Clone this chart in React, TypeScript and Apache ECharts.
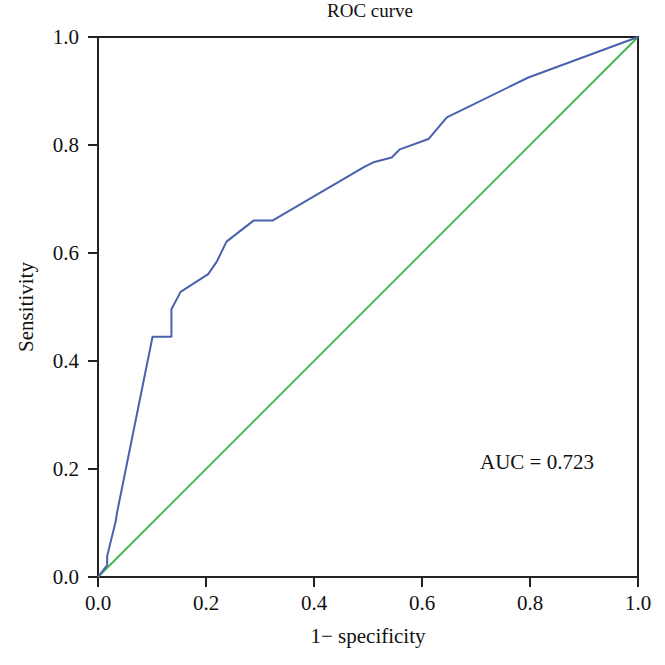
import React, { useEffect, useRef } from "react";
import * as echarts from "echarts";

const rocFpr = [0, 0.017, 0.017, 0.033, 0.035, 0.101, 0.136, 0.136, 0.153, 0.204, 0.22, 0.238, 0.288, 0.323, 0.494, 0.51, 0.544, 0.559, 0.612, 0.646, 0.797, 1.0];
const rocTpr = [0, 0.022, 0.039, 0.104, 0.118, 0.445, 0.445, 0.496, 0.528, 0.561, 0.584, 0.621, 0.66, 0.66, 0.76, 0.768, 0.777, 0.792, 0.811, 0.851, 0.925, 1.0];
const refX = [0, 1];
const refY = [0, 1];
const titleText = "ROC curve";
const xName = "1\u2212 specificity";
const yName = "Sensitivity";
const aucText = "AUC = 0.723";

const FONT = "'Liberation Serif', 'Times New Roman', serif";

export default function App() {
  const ref = useRef<HTMLDivElement>(null);
  useEffect(() => {
    document.body.style.margin = "0";
    if (!ref.current) return;
    const chart = echarts.init(ref.current, undefined, { renderer: "svg" });
    const axisCommon = {
      type: "value" as const,
      min: 0,
      max: 1,
      interval: 0.2,
      nameLocation: "middle" as const,
      nameTextStyle: { fontFamily: FONT, fontSize: 21, color: "#111" },
      axisLine: { show: true, lineStyle: { color: "#222", width: 2 } },
      axisTick: { show: true, inside: false, length: 10, lineStyle: { color: "#222", width: 2 } },
      axisLabel: {
        fontFamily: FONT,
        fontSize: 21,
        color: "#111",
        formatter: (v: number) => v.toFixed(1),
      },
      splitLine: { show: false },
    };
    chart.setOption({
      animation: false,
      backgroundColor: "#fff",
      grid: {
        left: 98,
        top: 37,
        width: 540,
        height: 540,
        show: true,
        borderColor: "#222",
        borderWidth: 2,
        containLabel: false,
      },
      xAxis: {
        ...axisCommon,
        name: xName,
        nameGap: 48,
        axisLabel: { ...axisCommon.axisLabel, margin: 15 },
      },
      yAxis: {
        ...axisCommon,
        name: yName,
        nameGap: 62,
        axisLabel: { ...axisCommon.axisLabel, margin: 19 },
      },
      graphic: [
        {
          type: "text",
          left: 368 - 41,
          top: 1,
          style: { text: titleText, fontFamily: FONT, fontSize: 19, fill: "#111" },
        },
        {
          type: "text",
          left: 480,
          top: 451,
          style: { text: aucText, fontFamily: FONT, fontSize: 21, fill: "#111" },
        },
      ],
      series: [
        {
          type: "line",
          data: refX.map((x, i) => [x, refY[i]]),
          showSymbol: false,
          symbol: "none",
          lineStyle: { color: "#3cb54a", width: 1.8 },
          z: 2,
        },
        {
          type: "line",
          data: rocFpr.map((x, i) => [x, rocTpr[i]]),
          showSymbol: false,
          symbol: "none",
          lineStyle: { color: "#4a61ad", width: 2 },
          z: 3,
        },
      ],
    });
    return () => chart.dispose();
  }, []);
  return <div ref={ref} style={{ width: 665, height: 665 }} />;
}
